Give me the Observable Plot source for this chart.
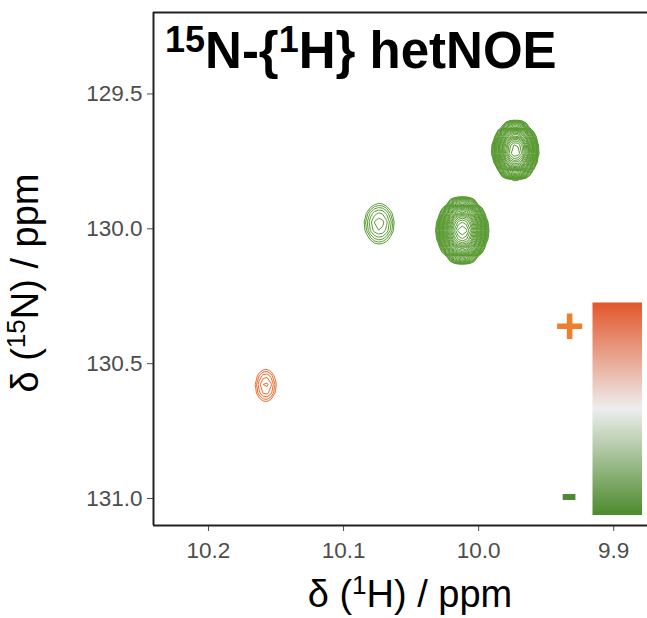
<!DOCTYPE html>
<html><head><meta charset="utf-8">
<script src="https://cdn.jsdelivr.net/npm/d3@7"></script>
<script src="https://cdn.jsdelivr.net/npm/@observablehq/plot@0.6"></script>
<style>
html,body{margin:0;padding:0;background:#fff;}
#chart{position:relative;width:647px;height:618px;overflow:hidden;}
#bar{position:absolute;left:592px;top:302px;}
</style></head><body><div id="chart"></div>
<script>
// Peaks (1H ppm, 15N ppm, relative height, gaussian widths in ppm)
const peakH = [9.9728, 10.0121, 10.0736, 10.1576];
const peakN = [129.711, 130.006, 129.981, 130.581];
const peakHeight = [-174, -237, -2.8, 2.19];
const widthH = [0.00537, 0.00582, 0.00774, 0.00622];
const widthN = [0.0334, 0.0364, 0.0516, 0.0474];
const xTicks = [10.2, 10.1, 10.0, 9.9];
const yTicks = [129.5, 130.0, 130.5, 131.0];
const xDomain = [10.2407, 9.875];
const yDomain = [129.198, 131.1];
const contourLevels = d3.range(0, 40).map(k => Math.pow(1.2, k));
const barStops = [-1, 0, 1];
const barColors = ["#4c8a2c", "#eeeeee", "#e2572b"];

function spectrum(x, y) {
  let s = 0;
  for (let i = 0; i < peakH.length; i++) {
    const dx = (x - peakH[i]) / widthH[i], dy = (y - peakN[i]) / widthN[i];
    s += peakHeight[i] * Math.exp(-0.5 * (dx * dx + dy * dy));
  }
  return s;
}

const grid = {x1: xDomain[0], x2: xDomain[1], y1: yDomain[0], y2: yDomain[1], width: 124, height: 60};

const plot = Plot.plot({
  width: 647, height: 618,
  marginLeft: 153, marginRight: 0, marginTop: 12, marginBottom: 93,
  style: {fontFamily: "'Liberation Sans', Arial, sans-serif", fontSize: "22.5px", color: "#4d4d4d", background: "white"},
  x: {domain: xDomain, ticks: xTicks, tickFormat: d3.format(".1f"), tickSize: 6, tickPadding: 11, label: null},
  y: {domain: yDomain, reverse: true, ticks: yTicks, tickFormat: d3.format(".1f"), tickSize: 6, tickPadding: 5, label: null},
  marks: [
    Plot.contour({value: (x, y) => -spectrum(x, y), ...grid,
      thresholds: contourLevels, stroke: "#5a9a32", fill: "none", strokeWidth: 1}),
    Plot.contour({value: (x, y) => spectrum(x, y), ...grid,
      thresholds: contourLevels, stroke: "#ee6c30", fill: "none", strokeWidth: 1}),
    Plot.ruleX([xDomain[0]], {stroke: "#222", strokeWidth: 2}),
    Plot.ruleY([yDomain[0], yDomain[1]], {stroke: "#222", strokeWidth: 2})
  ]
});

const svg = d3.select(plot);
const font = "'Liberation Sans', Arial, sans-serif";
// title
const t = svg.append("text").attr("x", 165).attr("y", 68).attr("text-anchor", "start").attr("font-family", font)
  .attr("font-weight", "bold").attr("font-size", 51).attr("fill", "#000");
t.append("tspan").attr("font-size", 36).attr("dy", -16).text("15");
t.append("tspan").attr("dy", 16).text("N-{");
t.append("tspan").attr("font-size", 36).attr("dy", -16).text("1");
t.append("tspan").attr("dy", 16).text("H} hetNOE");
// x label
const xl = svg.append("text").attr("x", 410).attr("y", 607).attr("text-anchor", "middle")
  .attr("font-family", font).attr("font-size", 38).attr("fill", "#000");
xl.append("tspan").text("δ (");
xl.append("tspan").attr("font-size", 26).attr("dy", -13).text("1");
xl.append("tspan").attr("dy", 13).text("H) / ppm");
// y label
const yl = svg.append("text").attr("transform", "translate(38,283) rotate(-90)").attr("text-anchor", "middle")
  .attr("font-family", font).attr("font-size", 38).attr("fill", "#000");
yl.append("tspan").text("δ (");
yl.append("tspan").attr("font-size", 26).attr("dy", -13).text("15");
yl.append("tspan").attr("dy", 13).text("N) / ppm");
// legend signs
svg.append("text").attr("x", 569.5).attr("y", 343).attr("text-anchor", "middle").attr("font-family", font)
  .attr("font-weight", "bold").attr("font-size", 50).attr("fill", "#ef7f2d").text("+");
svg.append("text").attr("x", 569).attr("y", 510).attr("text-anchor", "middle").attr("font-family", font)
  .attr("font-weight", "bold").attr("font-size", 50).attr("fill", "#4e8a35").text("-");

document.getElementById("chart").append(plot);

const bar = Plot.plot({
  width: 50, height: 213, margin: 0,
  x: {domain: [0, 1], axis: null},
  y: {domain: [-1, 1], axis: null},
  color: {type: "linear", domain: barStops, range: barColors, interpolate: "rgb"},
  marks: [
    Plot.raster({x1: 0, x2: 1, y1: -1, y2: 1, fill: (x, y) => y, pixelSize: 1})
  ]
});
const wrap = document.createElement("div");
wrap.id = "bar";
wrap.append(bar);
document.getElementById("chart").append(wrap);
</script>
</body></html>
